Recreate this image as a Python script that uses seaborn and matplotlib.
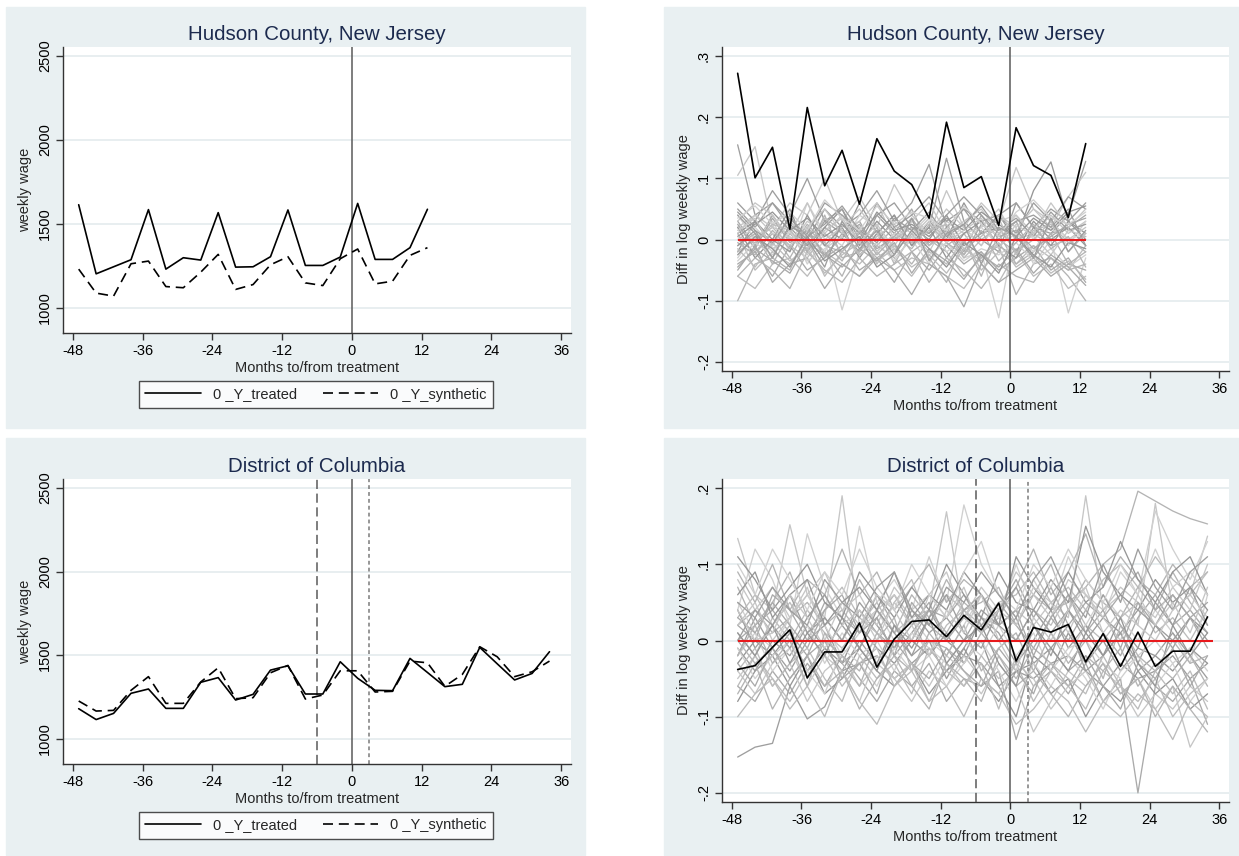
import numpy as np
import pandas as pd
import matplotlib
matplotlib.use("Agg")
import matplotlib.pyplot as plt
from matplotlib.patches import Rectangle
from matplotlib.lines import Line2D
import seaborn as sns

# ---- data ----
months_hud = [-47, -44, -41, -38, -35, -32, -29, -26, -23, -20, -17, -14, -11,
              -8, -5, -2, 1, 4, 7, 10, 13]
months_dc = [-47, -44, -41, -38, -35, -32, -29, -26, -23, -20, -17, -14, -11,
             -8, -5, -2, 1, 4, 7, 10, 13, 16, 19, 22, 25, 28, 31, 34]

hud_treated = [1613, 1201, 1243, 1285, 1584, 1229, 1297, 1283, 1566, 1241, 1243,
               1303, 1582, 1251, 1251, 1301, 1621, 1287, 1287, 1357, 1586]
hud_synthetic = [1229, 1086, 1068, 1261, 1277, 1125, 1118, 1211, 1317, 1108, 1137,
                 1255, 1303, 1147, 1131, 1291, 1349, 1141, 1157, 1311, 1357]

dc_treated = [1179, 1114, 1151, 1271, 1297, 1181, 1181, 1337, 1365, 1231, 1265,
              1410, 1436, 1267, 1267, 1460, 1361, 1289, 1287, 1480, 1396, 1311,
              1325, 1546, 1448, 1351, 1390, 1520]
dc_synthetic = [1225, 1165, 1169, 1289, 1371, 1211, 1211, 1339, 1424, 1239, 1245,
                1394, 1438, 1237, 1261, 1406, 1406, 1279, 1283, 1464, 1454, 1313,
                1384, 1550, 1490, 1371, 1400, 1464]

hud_diff = [0.272, 0.101, 0.151, 0.017, 0.216, 0.088, 0.146, 0.058, 0.165, 0.112,
            0.090, 0.035, 0.192, 0.085, 0.103, 0.023, 0.183, 0.121, 0.105, 0.036,
            0.157]
dc_diff = [-0.038, -0.033, -0.009, 0.014, -0.049, -0.015, -0.015, 0.023, -0.035,
           0.002, 0.025, 0.027, 0.005, 0.033, 0.014, 0.049, -0.027, 0.017, 0.011,
           0.021, -0.028, 0.009, -0.034, 0.011, -0.034, -0.014, -0.014, 0.031]

# placebo gaps (thousandths), estimated by eye
hud_placebo = [
    [155, 40, 60, 20, -10, 30, 10, -20, 40, 10, -5, 20, 133, 30, 0, -20, 60, 20, 10, 40, 128],
    [-100, -40, -30, -50, 10, -20, -60, 0, -30, -10, -40, 0, -20, -60, -30, -10, -90, -40, -30, -60, -100],
    [105, 152, 20, 60, 40, 100, 30, 70, 20, 90, 40, 10, 80, 20, 60, 30, 118, 50, 20, 70, 110],
    [30, -10, 40, 0, 20, -30, 10, 30, -20, 10, 50, -10, 20, -20, 40, 0, 30, -30, 10, 20, 40],
    [-30, 10, -20, 20, -40, 0, -115, -20, 10, -30, 0, -40, 10, -30, -20, -128, 20, -40, 0, -120, -30],
    [10, 30, -10, 40, -10, 20, 0, 60, 10, 40, -10, 30, 0, 60, 10, 40, 0, 80, 127, 30, 10],
    [-60, -80, -40, -30, -60, -20, -40, -60, -20, -50, -30, -40, -60, -80, -40, -70, -20, -60, -40, -80, -60],
    [50, 20, 60, 30, 0, 50, 20, 40, 80, 30, 60, 123, 20, 50, 30, 40, 10, 60, 30, 70, 50],
    [0, -20, 10, -30, 20, -10, -20, 10, -10, 20, -20, 0, -10, 10, -30, 0, -20, 10, -10, 0, -20],
    [20, 40, 10, -10, 30, 10, 40, 20, 0, 30, 10, -20, 30, 10, 20, 50, 0, 10, 40, 10, 30],
    [-40, -20, -60, -10, -50, -30, -10, -50, -30, -70, -20, -50, -10, -40, -20, -50, -30, -10, -50, -30, -70],
    [40, 0, 30, -20, 60, 10, -10, 40, 20, -20, 10, 40, 0, 20, -10, 30, 40, 0, 20, -10, 30],
    [-20, 30, 0, 50, -20, 20, 50, -10, 30, 0, 20, 0, 40, -10, 10, 20, -20, 30, 0, 20, -10],
    [10, -50, -20, -40, 0, -60, -20, -40, -10, -30, -60, -20, -40, 0, -50, -20, -40, -10, -30, -50, -10],
    [60, 30, 80, 40, 100, 30, 50, 0, 60, 20, 40, 70, 30, 50, 10, 40, 60, 20, 50, 30, 60],
    [-10, 10, -40, 10, -20, 40, -30, -20, 20, -40, 10, -30, -70, 0, -60, 10, -40, -20, 10, -40, -20],
    [30, 60, 40, 0, 20, 50, 10, 30, 60, 0, 30, 10, 50, 20, -10, 40, 20, 50, 30, 0, 20],
    [-50, -10, -70, -40, -30, -80, -40, -60, -30, -50, -90, -40, -60, -110, -40, -70, -50, -30, -60, -40, -50],
    [0, 20, -10, 30, 0, -20, 30, 0, -20, 10, 0, 30, -20, 0, 20, -10, 10, -20, 30, 0, 10],
    [20, -30, 0, -20, 40, -10, 20, -30, 10, 40, -10, 20, -30, 10, 30, -10, -30, 20, -10, 30, 0],
    [-20, 0, 20, -10, -30, 10, -20, 20, -40, 0, 20, -10, 10, -30, 0, 20, -20, 0, 30, -20, 10],
    [40, 10, -30, 20, 10, 60, 40, 10, 40, 60, 20, 10, 40, 70, 40, 10, 30, 40, 20, 50, -10],
    [-60, -30, -50, -80, -20, -50, -70, -30, -60, -40, -20, -70, -30, -50, -80, -40, -60, -70, -30, -50, -40],
    [10, 40, 20, 10, 60, 0, 20, 50, 10, -10, 30, 60, 10, 30, 50, 10, 40, 10, 60, 20, 50],
    [25, -15, 35, -5, 15, -25, 5, 25, -15, 5, 35, -5, 15, -25, 25, 5, 15, -15, 5, 25, 35],
    [-35, -5, -25, 15, -35, -15, 5, -25, -5, -35, 5, -25, -5, -35, -15, -25, -5, -35, -15, -45, -25],
    [5, 25, 45, 15, 35, 5, 25, -5, 45, 15, 25, 5, 35, 15, 45, 25, 5, 35, 15, 45, 55],
    [-15, -45, -5, -35, -15, -55, -25, -5, -35, -15, -45, -25, -55, -15, -35, -5, -45, -25, -55, -35, -65],
    [45, 15, -5, 35, 5, 25, 55, 15, -5, 35, 15, 45, 5, 25, 55, 15, 35, 5, 45, 15, 25],
    [-5, -25, 15, -15, 25, -5, -35, 15, -25, 5, -15, 25, -5, -25, 15, -35, -5, 25, -15, 5, -45],
    [15, 35, -15, 5, -25, 15, 35, -5, 25, -15, 5, 35, -5, 15, 35, -15, 25, 5, -25, 15, 5],
    [-45, -15, -35, -55, -5, -25, -45, -15, -35, -5, -55, -15, -35, -65, -25, -45, -15, -55, -25, -45, -75],
    [35, 55, 25, 45, 15, 65, 35, 15, 55, 25, 45, 35, 15, 55, 25, 5, 45, 65, 35, 25, 45],
    [-25, 5, -15, -45, 5, -35, -15, 5, -45, -25, 15, -15, -45, -5, -25, -55, 5, -25, -45, -5, -15],
    [5, -5, 25, 15, -15, 35, 15, -25, 5, 25, -5, 15, 25, -15, 5, 35, -25, 15, 25, -5, 5],
    [-10, 15, -30, 25, 0, -45, 30, -15, 15, -25, 35, -35, 10, 25, -40, 20, 5, -30, 35, -20, 15],
]

dc_placebo = [
    [-153, -140, -135, -60, -103, -87, -40, -30, -20, -50, -30, -10, -40, -20, -30, -60, -40, -50, -30, -20, -40, -60, -30, -50, -40, -20, -50, -30],
    [20, 40, 10, 30, 50, 20, 40, 10, 30, 60, 20, 40, 10, 50, 30, 20, 40, 60, 40, 50, 70, 100, 120, 196, 183, 170, 160, 153],
    [134, 60, 40, 152, 60, 30, 190, 20, 40, 60, 30, 40, 169, 30, 60, 20, 40, 20, 50, 30, 190, 40, 60, 20, 180, 40, 60, 137],
    [-60, -80, -40, -70, -30, -60, -20, -50, -80, -40, -60, -30, -80, -50, -60, -40, -130, -60, -40, -70, -30, -80, -50, -200, -60, -80, -50, -110],
    [40, 120, 80, 20, 140, 70, 30, 150, 50, 80, 40, 110, 50, 178, 100, 60, 30, 80, 40, 110, 60, 30, 90, 60, 170, 120, 80, 130],
    [-30, 0, -20, 10, -40, -10, -30, 20, -10, -30, 0, -20, 10, -30, 0, -60, -100, -20, -40, 10, -30, 0, -40, -10, -20, -40, -10, -30],
    [10, -20, 30, 0, 40, 10, -10, 20, 50, 10, 30, -20, 20, 40, 10, 30, 0, 40, 20, 60, 20, 0, 30, 50, 10, 30, 0, 40],
    [-20, 30, -10, -40, 0, 20, -30, -10, 30, -20, 10, 40, 0, -20, 30, 10, -30, 0, 40, -10, 20, -20, 10, -30, 20, -10, 30, 0],
    [90, 50, 100, 40, 80, 60, 120, 60, 90, 40, 70, 100, 50, 80, 60, 30, 70, 120, 60, 90, 140, 70, 110, 80, 60, 100, 70, 90],
    [-50, -20, -60, -30, -80, -40, -20, -60, -30, -50, -80, -40, -60, -20, -50, -70, -30, -50, -90, -60, -40, -80, -60, -100, -70, -90, -60, -80],
    [0, 20, 40, 10, -20, 30, 0, 40, 10, -10, 20, 50, 0, 30, 10, 50, 20, -10, 30, 0, 40, 10, -20, 30, 60, 20, 40, 10],
    [50, 10, -10, 30, 60, 20, -20, 10, 40, 0, 30, 0, -20, 20, 60, 30, 100, 40, 10, -20, 20, 60, 30, 0, 40, 10, -30, 60],
    [-80, -40, -20, -60, -20, -70, -50, -10, -40, -60, -30, -70, -40, -10, -50, -80, -40, -30, -70, -50, -100, -60, -80, -40, -70, -50, -90, -70],
    [30, 60, 20, 50, 10, 40, 70, 30, 10, 50, 80, 20, 60, 40, 20, 50, 60, 90, 50, 70, 40, 80, 100, 70, 110, 80, 60, 90],
    [-10, -40, 0, -20, 20, -10, -40, 0, -30, 20, -20, 0, -50, -10, 30, 0, 30, -30, -10, 20, -40, -20, 10, -40, -20, 10, -20, -50],
    [70, 20, 50, 90, 30, 60, 20, 80, 40, 10, 60, 30, 80, 40, 50, 70, 20, 60, 100, 40, 80, 50, 30, 70, 40, 90, 50, 20],
    [-40, -70, -30, -10, -60, -20, -40, -80, -20, -50, -30, -60, -20, -40, -70, -30, -60, -120, -80, -40, -60, -30, -70, -50, -90, -60, -140, -100],
    [20, 0, 60, 40, 0, 50, 30, 10, 60, 20, 0, 40, 30, 60, 20, 40, 80, 30, 70, 20, 50, 30, 60, 90, 40, 60, 30, 50],
    [-20, 10, -40, -10, 20, -30, 10, -20, 0, -40, 10, -10, -30, 0, -20, 20, -20, 10, -40, -10, 0, -30, -50, -20, 0, -30, -10, -40],
    [110, 80, 40, 70, 100, 50, 30, 90, 60, 30, 70, 40, 100, 60, 30, 90, 50, 40, 80, 50, 150, 90, 60, 40, 80, 50, 70, 40],
    [-60, -20, -50, -80, -40, -20, -60, -30, -10, -60, -40, -80, -30, -60, -20, -50, -30, -80, -40, -60, -90, -40, -60, -80, -50, -100, -70, -50],
    [40, -10, 20, 60, 10, 30, 0, 50, 20, -10, 40, 10, 30, 0, 40, 20, 0, 40, 10, 40, 0, 30, 10, 40, 20, 0, 30, 10],
    [0, -30, -10, 20, -50, 0, -20, -40, 10, -20, -40, 0, -10, -30, 10, -20, -50, -10, -30, -60, -20, -40, -10, -60, -30, -50, -20, -60],
    [80, 40, 70, 30, 60, 90, 40, 60, 20, 70, 40, 60, 90, 30, 70, 40, 90, 60, 30, 80, 60, 40, 70, 50, 30, 70, 40, 100],
    [30, 10, 50, 20, -10, 40, 60, 10, 30, -20, 50, 20, 0, 40, 60, 20, 40, -20, 30, 60, 10, 40, -10, 50, 20, 60, 30, -10],
    [-10, -50, -20, 0, -40, -70, -10, -30, -60, -10, -40, -20, -60, -30, 0, -40, -80, -30, -60, -20, -50, -90, -40, -20, -60, -30, -80, -50],
    [60, 90, 30, 60, 80, 20, 50, 70, 40, 90, 30, 60, 40, 90, 60, 20, 110, 70, 40, 90, 50, 70, 130, 80, 50, 90, 110, 60],
    [-40, -10, -60, -30, -10, -50, -80, -20, -50, -30, -70, -10, -40, -60, -30, -90, -20, -60, -30, -50, -70, -20, -60, -90, -40, -70, -40, -90],
    [0, 40, 20, -10, 30, 60, 20, -10, 40, 10, -20, 30, 60, 10, -10, 40, 70, 20, -20, 40, 10, 60, 20, -10, 50, 20, 70, 20],
    [-70, -30, -90, -50, -20, -60, -40, -90, -50, -20, -60, -90, -30, -50, -80, -20, -60, -40, -70, -100, -60, -30, -70, -50, -100, -60, -90, -120],
    [20, 50, 0, 30, 70, 0, 50, 20, 60, 40, 0, 60, 30, 70, 10, 40, 20, 70, 50, 10, 60, 30, 0, 60, 20, 50, 10, 70],
    [-30, -60, -10, -50, -20, 0, -50, -30, -70, 0, -30, -50, -10, -40, -60, -10, -40, -70, -10, -40, -20, -60, -90, -30, -50, -10, -60, -20],
    [100, 60, 120, 80, 40, 90, 60, 120, 70, 40, 100, 60, 30, 90, 130, 60, 40, 100, 70, 120, 80, 50, 100, 60, 120, 70, 90, 60],
    [10, -20, 20, -30, 10, -20, 30, -10, -40, 20, -10, 30, -30, 0, 20, -30, -60, 20, -10, -40, 10, -20, 30, -30, -60, 20, -20, 10],
    [-100, -70, -50, -90, -60, -100, -40, -80, -110, -60, -30, -80, -60, -100, -50, -70, -110, -90, -60, -80, -120, -80, -100, -70, -90, -130, -80, -100],
    [50, 30, 70, 40, 20, 80, 50, 30, 70, 90, 40, 20, 70, 50, 90, 60, 30, 80, 110, 60, 30, 100, 50, 120, 70, 40, 90, 110],
    [-20, 20, -30, 0, -60, 10, -30, -60, 0, 30, -40, 10, -20, 20, -40, -10, 10, -40, 10, -30, 0, -50, 20, -20, -40, 0, -30, -20],
    [40, 0, 10, 60, 30, -10, 20, 40, 0, 50, 20, -20, 40, 10, 60, 0, -40, 30, 0, 40, 70, 10, 40, 20, 0, 40, 60, 30],
]

wage_ticks = [1000, 1500, 2000, 2500]
hud_gap_ticks = [-0.2, -0.1, 0, 0.1, 0.2, 0.3]
hud_gap_labels = ["-.2", "-.1", "0", ".1", ".2", ".3"]
dc_gap_ticks = [-0.2, -0.1, 0, 0.1, 0.2]
dc_gap_labels = ["-.2", "-.1", "0", ".1", ".2"]
month_ticks = [-48, -36, -24, -12, 0, 12, 24, 36]

# ---- style ----
sns.set_style("white")
plt.rcParams["font.family"] = ["Liberation Sans", "DejaVu Sans"]

BG = "#e9f0f2"
GRID = "#e1eaec"
TITLE = "#1c2a4e"
AX = "#333333"
GRAYS = ["#9e9e9e", "#b4b4b4", "#c6c6c6", "#aaaaaa", "#d0d0d0", "#969696", "#bcbcbc"]

W, H = 1239, 856
fig = plt.figure(figsize=(W / 100, H / 100), dpi=100, facecolor="white")


def px_rect(x0, y0, x1, y1):
    return [x0 / W, 1 - y1 / H, (x1 - x0) / W, (y1 - y0) / H]


# panel backgrounds
for x0, y0, x1, y1 in [(6, 7, 585, 428), (664, 7, 1239, 428),
                       (6, 438, 585, 855), (664, 438, 1239, 855)]:
    fig.patches.append(Rectangle((x0 / W, 1 - y1 / H), (x1 - x0) / W, (y1 - y0) / H,
                                 transform=fig.transFigure, color=BG, zorder=-5))


def style_axes(ax, title, ylabel, yticks, ylabels, ylim):
    ax.set_facecolor("white")
    for s in ["top", "right"]:
        ax.spines[s].set_visible(False)
    for s in ["left", "bottom"]:
        ax.spines[s].set_color(AX)
        ax.spines[s].set_linewidth(1.0)
    ax.set_xlim(-49.7, 37.7)
    ax.set_ylim(*ylim)
    ax.set_xticks(month_ticks)
    ax.set_xticklabels([str(m) for m in month_ticks])
    ax.set_yticks(yticks)
    ax.set_yticklabels(ylabels, rotation=90, va="center")
    ax.tick_params(direction="out", length=5, width=1, color=AX, labelsize=10.5,
                   labelcolor="black", bottom=True, left=True, pad=3)
    ax.yaxis.grid(True, color=GRID, lw=1.1)
    ax.xaxis.grid(False)
    ax.set_axisbelow(True)
    ax.set_title(title, color=TITLE, fontsize=14.8, pad=5)
    ax.set_xlabel("Months to/from treatment", fontsize=10.5, labelpad=2)
    ax.set_ylabel(ylabel, fontsize=10.5, labelpad=4)


def placebo_frame(months, lines):
    rows = []
    for i, vals in enumerate(lines):
        for m, v in zip(months, vals):
            rows.append({"unit": i, "month": m, "gap": v / 1000})
    return pd.DataFrame(rows)


def wage_panel(rect, title, months, treated, synthetic, vlines):
    ax = fig.add_axes(rect)
    df = pd.DataFrame({"month": months, "treated": treated, "synthetic": synthetic})
    for x, ls, c in vlines:
        ax.axvline(x, color=c, lw=1.1, ls=ls, zorder=1)
    sns.lineplot(data=df, x="month", y="treated", color="black", lw=1.2, ax=ax, zorder=3)
    sns.lineplot(data=df, x="month", y="synthetic", color="black", lw=1.2, ax=ax,
                 zorder=3, dashes=False, linestyle=(0, (6, 3.5)))
    style_axes(ax, title, "weekly wage", wage_ticks, [str(t) for t in wage_ticks],
               (848, 2554))
    return ax


def gap_panel(rect, title, months, diff, placebo, yticks, ylabels, ylim, red_end, vlines):
    ax = fig.add_axes(rect)
    pdf = placebo_frame(months, placebo)
    sns.lineplot(data=pdf, x="month", y="gap", hue="unit", units="unit", estimator=None,
                 palette=[GRAYS[i % len(GRAYS)] for i in range(len(placebo))],
                 lw=0.95, legend=False, ax=ax, zorder=2)
    ax.hlines(0, months[0], red_end, color="#e8191c", lw=1.5, zorder=3)
    for x, ls, c in vlines:
        ax.axvline(x, color=c, lw=1.1, ls=ls, zorder=4)
    df = pd.DataFrame({"month": months, "gap": diff})
    sns.lineplot(data=df, x="month", y="gap", color="black", lw=1.2, ax=ax, zorder=5)
    style_axes(ax, title, "Diff in log weekly wage", yticks, ylabels, ylim)
    return ax


hud_v = [(0, "-", "#5a5a5a")]
dc_v = [(-6, (0, (6, 3)), "#5a5a5a"), (0, "-", "#5a5a5a"), (3, (0, (2.5, 2)), "#7a7a7a")]

wage_panel(px_rect(63, 47, 571, 333), "Hudson County, New Jersey",
           months_hud, hud_treated, hud_synthetic, hud_v)
gap_panel(px_rect(722, 47, 1229, 371), "Hudson County, New Jersey",
          months_hud, hud_diff, hud_placebo, hud_gap_ticks, hud_gap_labels,
          (-0.215, 0.315), 13, hud_v)
wage_panel(px_rect(63, 479, 571, 764), "District of Columbia",
           months_dc, dc_treated, dc_synthetic, dc_v)
gap_panel(px_rect(722, 479, 1229, 802), "District of Columbia",
          months_dc, dc_diff, dc_placebo, dc_gap_ticks, dc_gap_labels,
          (-0.212, 0.212), 35, dc_v)

# legends for the wage panels
handles = [Line2D([], [], color="black", lw=1.2),
           Line2D([], [], color="black", lw=1.2, linestyle=(0, (6, 3.5)))]
labels = ["0 _Y_treated", "0 _Y_synthetic"]
for cy in [394.5, 825.5]:
    leg = fig.legend(handles, labels, loc="center", bbox_to_anchor=(316 / W, 1 - cy / H),
                     ncol=2, frameon=True, fancybox=False, edgecolor="#222222",
                     fontsize=10.5, handlelength=3.8, columnspacing=1.8,
                     handletextpad=0.8, borderpad=0.45, borderaxespad=0)
    leg.get_frame().set_linewidth(1.0)

fig.savefig("out.png", dpi=100, facecolor="white")
